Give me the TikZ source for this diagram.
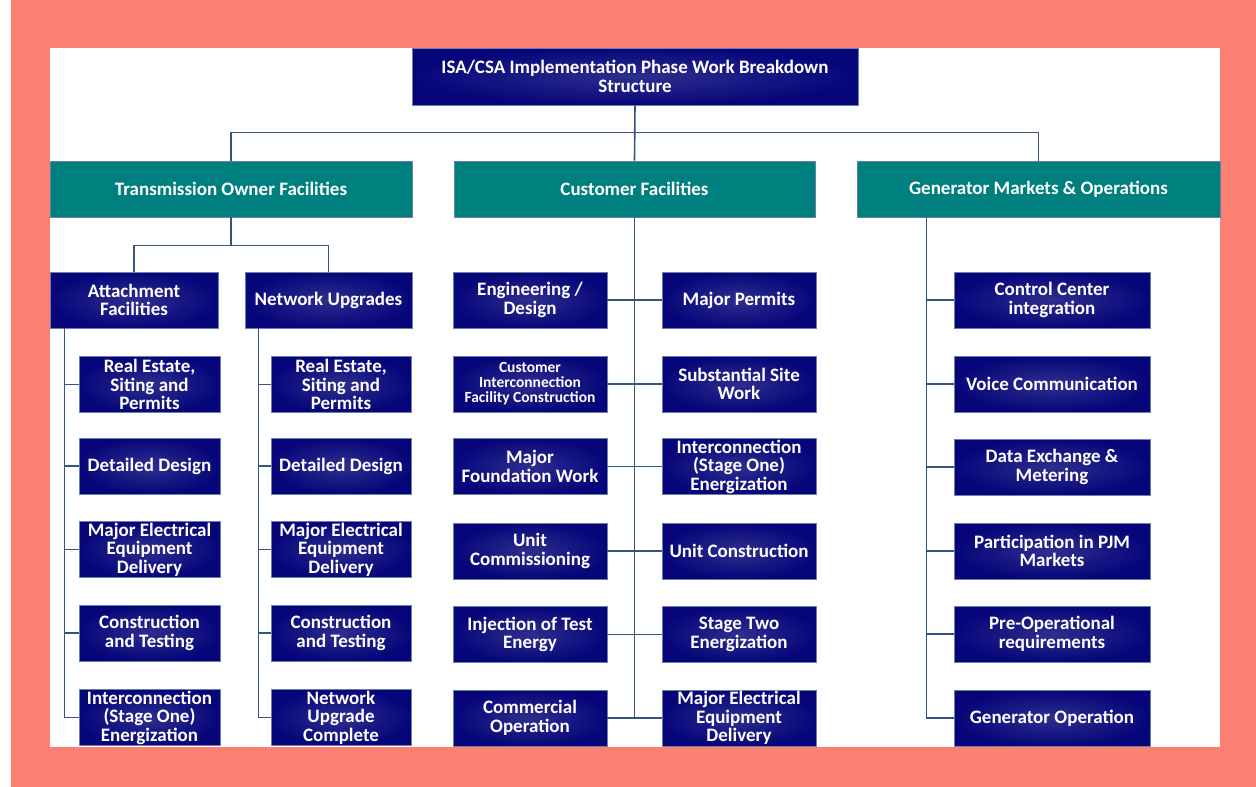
\documentclass[tikz,border=0pt]{standalone}
\usepackage{fontspec}
\setmainfont{Carlito}
\usetikzlibrary{positioning,calc}

\definecolor{salmon}{HTML}{FA8072}
\definecolor{navy}{HTML}{06067A}
\definecolor{navylight}{HTML}{2E2E8E}
\definecolor{tealbox}{HTML}{007F7F}
\definecolor{linkblue}{HTML}{33557E}
\definecolor{edgeblue}{HTML}{6A7FA8}

\tikzset{
    wbs/.style={draw=edgeblue, line width=.8pt, inner color=navylight, outer color=navy,
        text=white, font=\bfseries\fontsize{19}{18.5}\selectfont, align=center,
        inner sep=0pt, minimum height=56},
    facility/.style={wbs, shading=axis, top color=tealbox, bottom color=tealbox, minimum width=362},
    link/.style={draw=linkblue, line width=1.6pt}
}

\begin{document}
\begin{tikzpicture}[x=1pt,y=-1pt]
            \useasboundingbox (0,0) rectangle (1256,787);
            \fill[salmon] (11,0) rectangle (1256,787);
            \fill[white] (50,48) rectangle (1220,747);

            \node[wbs,minimum width=446,minimum height=57] (wbs) at (635,76.5) {ISA/CSA Implementation Phase Work Breakdown\\Structure};

            \node[facility] (tof) at (231,189) {Transmission Owner Facilities};
            \node[facility,minimum width=361] (cf) at (634.5,189) {Customer Facilities};
            \node[facility,minimum width=363] (gmo) at (1038.5,189) {Generator Markets \& Operations};

            \node[wbs,minimum width=168] (att) at (134,300) {Attachment\\Facilities};
            \node[wbs,minimum width=167] (nu) at (328.5,300) {Network Upgrades};

            % transmission owner work packages
            \foreach \i/\y/\t in {1/384.5/{Real Estate,\\Siting and\\Permits},
                                  2/466/{Detailed Design},
                                  3/549.5/{Major Electrical\\Equipment\\Delivery},
                                  4/633/{Construction\\and Testing},
                                  5/717.5/{Interconnection\\(Stage One)\\Energization}} {
                \node[wbs,minimum width=141] (ac\i) at (149.5,\y) {\t}; }
            \foreach \i/\y/\t in {1/384.5/{Real Estate,\\Siting and\\Permits},
                                  2/466/{Detailed Design},
                                  3/549.5/{Major Electrical\\Equipment\\Delivery},
                                  4/633/{Construction\\and Testing},
                                  5/717.5/{Network\\Upgrade\\Complete}} {
                \node[wbs,minimum width=140] (nc\i) at (341,\y) {\t}; }

            % customer facilities work packages
            \foreach \i/\y/\l/\r in {1/300/{Engineering /\\Design}/{Major Permits},
                                     2/384/{}/{Substantial Site\\Work},
                                     3/466.5/{Major\\Foundation Work}/{Interconnection\\(Stage One)\\Energization},
                                     4/551/{Unit\\Commissioning}/{Unit Construction},
                                     5/634.5/{Injection of Test\\Energy}/{Stage Two\\Energization},
                                     6/718/{Commercial\\Operation}/{Major Electrical\\Equipment\\Delivery}} {
                \node[wbs,minimum width=154] (cl\i) at (530,\y) {\l};
                \node[wbs,minimum width=154] (cr\i) at (739,\y) {\r}; }
            \node[font=\bfseries\fontsize{15.5}{15}\selectfont,text=white,align=center] at (cl2) {Customer\\Interconnection\\Facility Construction};

            % generator work packages
            \foreach \i/\y/\t in {1/300/{Control Center\\integration},
                                  2/384/{Voice Communication},
                                  3/467/{Data Exchange \&\\Metering},
                                  4/551/{Participation in PJM\\Markets},
                                  5/634/{Pre-Operational\\requirements},
                                  6/718/{Generator Operation}} {
                \node[wbs,minimum width=196] (gc\i) at (1052,\y) {\t}; }

            % connectors
            \draw[link] (wbs.south) -- (cf.north);
            \draw[link] (tof.north) -- ++(0,-28) -| (gmo.north);
            \draw[link] (att.north) |- ($ (tof.south)+(0,28) $) -| (nu.north);
            \draw[link] (tof.south) -- ++(0,28);

            \coordinate (attT) at ($ (att.south west)+(15,0) $);
            \coordinate (nuT) at ($ (nu.south west)+(14,0) $);
            \coordinate (gmoT) at ($ (gmo.south west)+(70,0) $);
            \draw[link] (attT) |- (ac5.west);
            \draw[link] (nuT) |- (nc5.west);
            \draw[link] (gmoT) |- (gc6.west);
            \draw[link] (cf.south) -- (cf.south |- cl6.east);
            \foreach \i in {1,...,4} {
                \draw[link] (attT |- ac\i.west) -- (ac\i.west);
                \draw[link] (nuT |- nc\i.west) -- (nc\i.west); }
            \foreach \i in {1,...,5} {
                \draw[link] (gmoT |- gc\i.west) -- (gc\i.west); }
            \foreach \i in {1,...,6} {
                \draw[link] (cl\i.east) -- (cr\i.west); }
        \end{tikzpicture}
\end{document}
